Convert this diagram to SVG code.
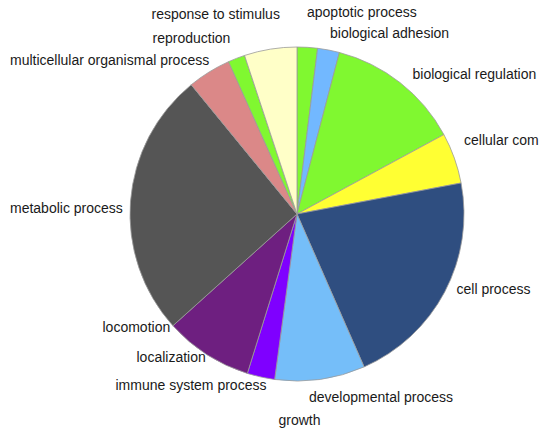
<svg xmlns="http://www.w3.org/2000/svg" width="539" height="433" viewBox="0 0 539 433">
<style>
  .slice { stroke: #9a9a9a; stroke-width: 0.8; stroke-linejoin: round; }
  .lbl { font-family: "Liberation Sans", Arial, sans-serif; font-size: 14px; fill: #1a1a1a; }
</style>
<rect width="539" height="433" fill="#ffffff"/>
<g id="connectors"></g>
<g id="apoptotic-process">
  <path class="slice" fill="#80f830" d="M297,214 L297,47 A167,167 0 0 1 317.64,48.29 Z"/>
  <text class="lbl" x="307" y="17">apoptotic process</text>
</g>
<g id="biological-adhesion">
  <path class="slice" fill="#72b8ff" d="M297,214 L317.64,48.29 A167,167 0 0 1 339.38,52.46 Z"/>
  <text class="lbl" x="330" y="37.5">biological adhesion</text>
</g>
<g id="biological-regulation">
  <path class="slice" fill="#80f830" d="M297,214 L339.38,52.46 A167,167 0 0 1 443.89,134.57 Z"/>
  <text class="lbl" x="412.5" y="78.5">biological regulation</text>
</g>
<g id="cellular-component">
  <path class="slice" fill="#ffff33" d="M297,214 L443.89,134.57 A167,167 0 0 1 461.09,182.99 Z"/>
  <text class="lbl" x="464" y="145">cellular com</text>
</g>
<g id="cell-process">
  <path class="slice" fill="#2f4e80" d="M297,214 L461.09,182.99 A167,167 0 0 1 364.12,366.92 Z"/>
  <text class="lbl" x="456.5" y="294">cell process</text>
</g>
<g id="developmental-process">
  <path class="slice" fill="#75bef9" d="M297,214 L364.12,366.92 A167,167 0 0 1 274.62,379.49 Z"/>
  <text class="lbl" x="309" y="402">developmental process</text>
</g>
<g id="growth">
  <text class="lbl" x="278.5" y="425">growth</text>
</g>
<g id="immune-system-process">
  <path class="slice" fill="#7f00ff" d="M297,214 L274.62,379.49 A167,167 0 0 1 247.33,373.45 Z"/>
  <text class="lbl" x="115.5" y="390">immune system process</text>
</g>
<g id="localization">
  <path class="slice" fill="#6e1f80" d="M297,214 L247.33,373.45 A167,167 0 0 1 172.90,325.74 Z"/>
  <text class="lbl" x="136.5" y="362">localization</text>
</g>
<g id="locomotion">
  <text class="lbl" x="102.5" y="332">locomotion</text>
</g>
<g id="metabolic-process">
  <path class="slice" fill="#555555" d="M297,214 L172.90,325.74 A167,167 0 0 1 191.22,84.77 Z"/>
  <text class="lbl" x="10" y="213">metabolic process</text>
</g>
<g id="multicellular-organismal-process">
  <path class="slice" fill="#db8888" d="M297,214 L191.22,84.77 A167,167 0 0 1 228.55,61.68 Z"/>
  <text class="lbl" x="10" y="65">multicellular organismal process</text>
</g>
<g id="reproduction">
  <path class="slice" fill="#80f830" d="M297,214 L228.55,61.68 A167,167 0 0 1 244.56,55.45 Z"/>
  <text class="lbl" x="152.5" y="42.5">reproduction</text>
</g>
<g id="response-to-stimulus">
  <path class="slice" fill="#ffffc8" d="M297,214 L244.56,55.45 A167,167 0 0 1 297,47 Z"/>
  <text class="lbl" x="151.5" y="18.5">response to stimulus</text>
</g>
</svg>
